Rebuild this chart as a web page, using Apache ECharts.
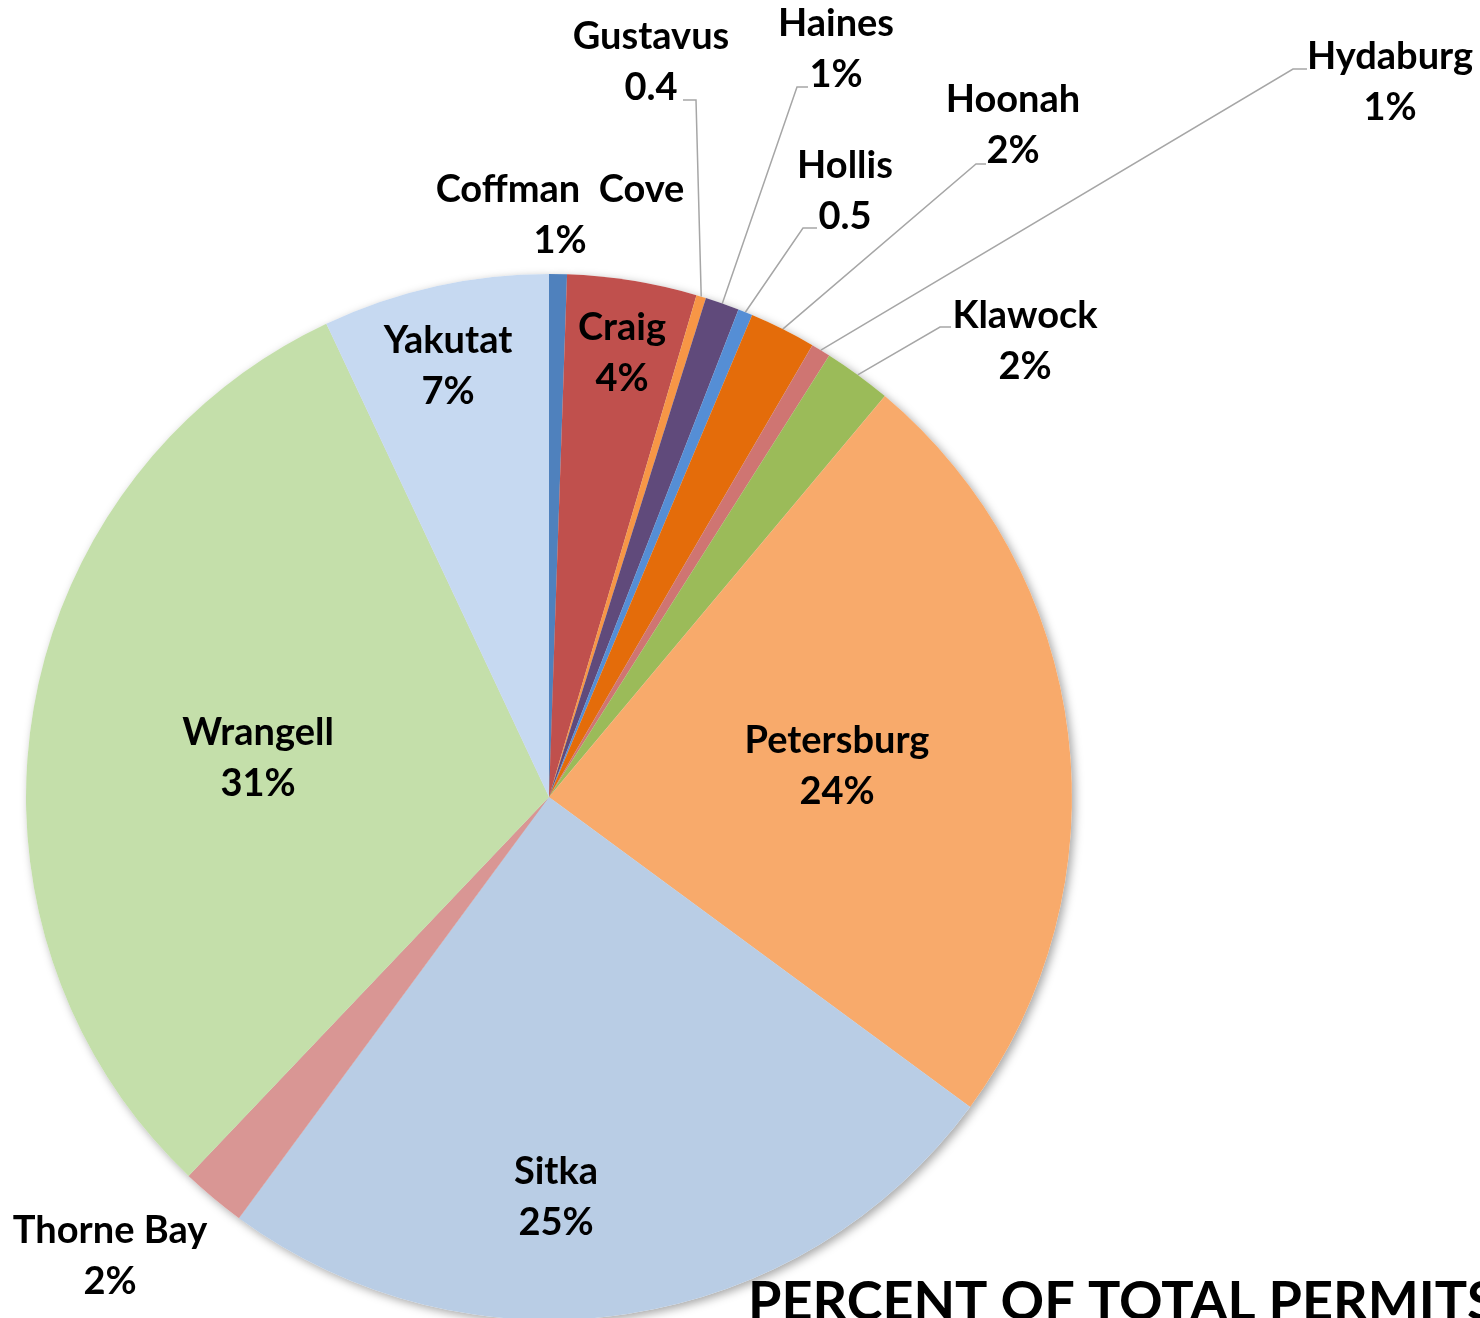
<!DOCTYPE html>
<html>
<head>
<meta charset="utf-8">
<script src="https://cdn.jsdelivr.net/npm/echarts@6/dist/echarts.min.js"></script>
<style>
html,body{margin:0;padding:0;background:#fff;}
#main{width:1480px;height:1318px;}
</style>
</head>
<body>
<div id="main"></div>
<script>
// ---- data ----
var categories = ['Coffman  Cove','Craig','Gustavus','Haines','Hollis','Hoonah','Hydaburg','Klawock','Petersburg','Sitka','Thorne Bay','Wrangell','Yakutat'];
var values = [0.55, 4.0, 0.3, 1.05, 0.45, 2.05, 0.6, 2.1, 24.0, 25.0, 2.0, 30.9, 7.0];
var valueLabels = ['1%','4%','0.4','1%','0.5','2%','1%','2%','24%','25%','2%','31%','7%'];
var titleText = 'PERCENT OF TOTAL PERMITS';

// ---- styles / layout ----
var colors = ['#4F81BD','#C0504D','#F79646','#604A7B','#558ED5','#E46C0A','#CF7572','#9BBB59','#F8AA6B','#B9CDE5','#D99694','#C4DFAA','#C6D9F1'];
var labelPos = [[560,215],[622,353],[651,62],[836,49],[845,191],[1013,125],[1390,82],[1025,341],[837,766],[556,1197],[110,1256],[258,758],[448,366]];
// elbow point x, y, end x (null = no leader line)
var leaders = [null,null,[696,100,683],[797,87,808],[803,228,817],[976,164,986],[1293,69,1307],[940,327,951],null,null,null,null,null];

var chart = echarts.init(document.getElementById('main'));
var fontFam = 'Lato, "Open Sans", sans-serif';

var mainData = categories.map(function (c, i) {
  return {
    name: c,
    value: values[i],
    itemStyle: { color: colors[i] },
    labelLine: { show: !!leaders[i] }
  };
});
var shadowData = categories.map(function (c, i) {
  return { name: c, value: values[i] };
});

chart.setOption({
  animation: false,
  title: {
    text: titleText,
    left: 743,
    top: 1271,
    textStyle: { fontFamily: fontFam, fontWeight: 'bold', fontSize: 54, color: '#000' }
  },
  series: [
    {
      type: 'pie',
      silent: true,
      center: [549, 797],
      radius: 523,
      z: 1,
      label: { show: false },
      labelLine: { show: false },
      itemStyle: { color: '#fff', shadowBlur: 10, shadowColor: 'rgba(0,0,0,0.35)', shadowOffsetX: 3, shadowOffsetY: 3 },
      data: shadowData
    },
    {
      type: 'pie',
      center: [549, 797],
      radius: 523,
      z: 2,
      avoidLabelOverlap: false,
      emphasis: { disabled: true },
      itemStyle: { borderWidth: 0 },
      label: {
        show: true,
        position: 'outside',
        color: '#000',
        fontFamily: fontFam,
        fontWeight: 'bold',
        fontSize: 38,
        lineHeight: 51,
        align: 'center',
        formatter: function (p) { return p.name + '\n' + valueLabels[p.dataIndex]; }
      },
      labelLine: { show: true, lineStyle: { color: '#A6A6A6', width: 1.5 } },
      labelLayout: function (params) {
        var i = params.dataIndex;
        var p = labelPos[i];
        var res = { x: p[0], y: p[1], align: 'center', verticalAlign: 'middle' };
        var e = leaders[i];
        if (e && params.labelLinePoints) {
          res.labelLinePoints = [params.labelLinePoints[0], [e[0], e[1]], [e[2], e[1]]];
        }
        return res;
      },
      data: mainData
    }
  ]
});
</script>
</body>
</html>
